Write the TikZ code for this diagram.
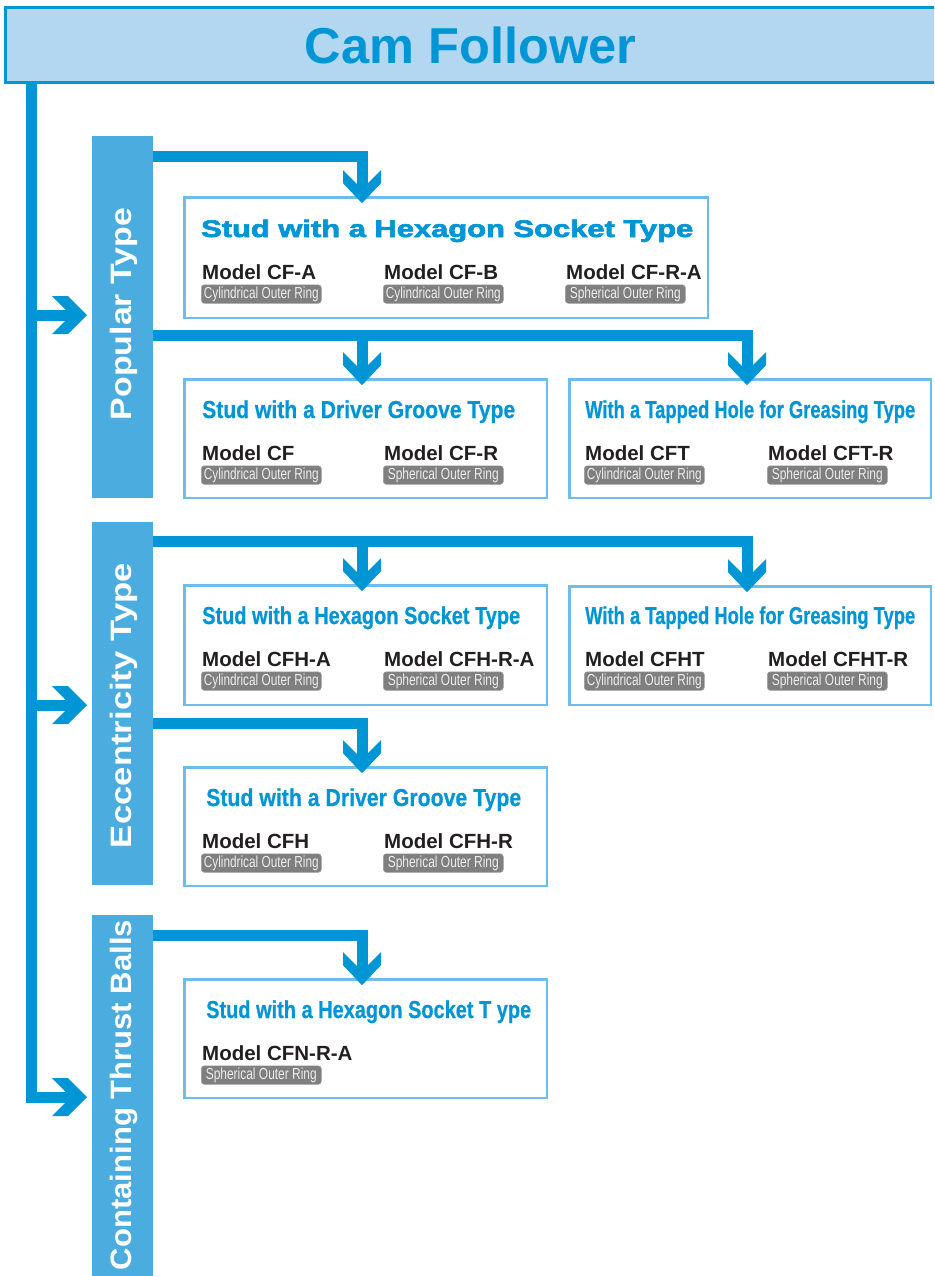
\documentclass[tikz,border=0pt]{standalone}
\usepackage{fontspec}
\setmainfont{Liberation Sans}
\newfontfamily\heavyfont{Liberation Sans Bold}[FakeBold=2.6]
\newfontfamily\condfont{Liberation Sans Bold}[FakeBold=0.6]
\usetikzlibrary{calc}
\definecolor{connblue}{HTML}{0096D6}
\definecolor{titlefill}{HTML}{B3D7F0}
\definecolor{barblue}{HTML}{4BADDF}
\definecolor{boxline}{HTML}{6DBDEA}
\definecolor{tagfill}{HTML}{7F7F7F}
\definecolor{tagline}{HTML}{A0A0A0}
\definecolor{modeltext}{HTML}{231F20}
\newcommand\fitw[2]{\resizebox{#1pt}{\height}{#2}}
\newcommand\cyl{\fitw{115}{Cylindrical Outer Ring}}
\newcommand\sph{\fitw{111}{Spherical Outer Ring}}
\newcommand\chevdown[1]{\fill[chev] ($(#1)+(-19,-33)$) -- ($(#1)+(0,-14)$) -- ($(#1)+(19,-33)$) -- ($(#1)+(19,-20)$) -- (#1) -- ($(#1)+(-19,-20)$) -- cycle;}
\newcommand\chevright[1]{\fill[chev] ($(#1)+(-35,-19)$) -- ($(#1)+(-19,-19)$) -- (#1) -- ($(#1)+(-19,19)$) -- ($(#1)+(-35,19)$) -- ($(#1)+(-16,0)$) -- cycle;}
\newcommand\entry[5]{%
  \node[model] (#1m) at (#2,#3) {#4};
  \node[tag] (#1t) at ($(#2,#3)+(-1,5.5)$) {#5};}
\tikzset{
  conn/.style={line width=11pt, draw=connblue, line join=miter},
  chev/.style={fill=connblue},
  boxsty/.style={draw=boxline, line width=2.5pt, fill=white, inner sep=0pt, anchor=north west},
  bar/.style={fill=barblue, inner sep=0pt, minimum width=61pt, anchor=north west},
  bartext/.style={rotate=90, anchor=base, text=white, font=\bfseries\fontsize{29.5}{30}\selectfont, inner sep=0pt},
  boxtitle/.style={anchor=base west, text=connblue, font=\condfont\fontsize{24.5}{25}\selectfont, inner sep=0pt},
  model/.style={anchor=base west, text=modeltext, font=\bfseries\fontsize{20.5}{21}\selectfont, inner sep=0pt},
  tag/.style={anchor=north west, fill=tagfill, draw=tagline, line width=0.6pt, rounded corners=3pt, minimum width=120pt, minimum height=18.5pt, inner sep=0pt, text=white!93!black, font=\fontsize{16}{16}\selectfont},
}
\begin{document}
\begin{tikzpicture}[x=1pt,y=-1pt]
\clip (0,0) rectangle (934,1276);
% title
\node[draw=connblue, line width=3pt, fill=titlefill, minimum width=945pt, minimum height=75pt, anchor=north west, inner sep=0pt] (title) at (4,6.5) {};
\node[anchor=base, text=connblue, font=\bfseries\fontsize{50.5}{51}\selectfont, inner sep=0pt] (tt) at (470.5,64) {Cam Follower};
% category bars
\node[bar, minimum height=362pt] (pop) at (92,136) {};
\node[bar, minimum height=363pt] (ecc) at (92,522) {};
\node[bar, minimum height=365pt] (cont) at (92,915) {};
\node[bartext] (popt) at (131.5,314) {\fitw{212}{Popular Type}};
\node[bartext] (ecct) at (131.5,705.5) {\fitw{285}{Eccentricity Type}};
\node[bartext] (contt) at (131.5,1095) {\fitw{350}{Containing Thrust Balls}};
% trunk
\coordinate (trunk) at (31.5,81);
\coordinate (h1) at (87,315);
\coordinate (h2) at (87,705);
\coordinate (h3) at (87,1097);
\draw[conn] (trunk) |- ($(h3)+(-12,0)$);
\draw[conn] (h1 -| trunk) -- ($(h1)+(-12,0)$);
\draw[conn] (h2 -| trunk) -- ($(h2)+(-12,0)$);
\chevright{h1}\chevright{h2}\chevright{h3}
% boxes
\node[boxsty, minimum width=523.5pt, minimum height=120.5pt] (b1) at (183.2,196.2) {};
\node[boxsty, minimum width=362.5pt, minimum height=118.5pt] (b2) at (183.2,378.2) {};
\node[boxsty, minimum width=361.5pt, minimum height=118.5pt] (b3) at (568.2,378.2) {};
\node[boxsty, minimum width=362.5pt, minimum height=119.5pt] (b4) at (183.2,584.2) {};
\node[boxsty, minimum width=361.5pt, minimum height=118.5pt] (b5) at (568.2,585.2) {};
\node[boxsty, minimum width=362.5pt, minimum height=118.5pt] (b6) at (183.2,766.2) {};
\node[boxsty, minimum width=362.5pt, minimum height=118.5pt] (b7) at (183.2,978.2) {};
% tips
\path (b1.north west) ++(178.8,7) coordinate (a1);
\path (b2.north west) ++(178.8,7) coordinate (a2);
\path (b3.north west) ++(178.8,7) coordinate (a3);
\path (b4.north west) ++(178.8,7) coordinate (a4);
\path (b5.north west) ++(178.8,7) coordinate (a5);
\path (b6.north west) ++(178.8,7) coordinate (a6);
\path (b7.north west) ++(178.8,7) coordinate (a7);
% connectors
\coordinate (c1) at ([yshift=-20.5pt]pop.north east);
\coordinate (c2) at ([yshift=-199pt]pop.north east);
\coordinate (c3) at ([yshift=-19.5pt]ecc.north east);
\coordinate (c4) at ([yshift=-201pt]ecc.north east);
\coordinate (c5) at ([yshift=-20pt]cont.north east);
\draw[conn] (c1) -| ($(a1)+(0,-12)$);
\draw[conn] (c2) -| ($(a3)+(0,-12)$);
\draw[conn] (c2 -| a2) -- ($(a2)+(0,-12)$);
\draw[conn] (c3) -| ($(a5)+(0,-12)$);
\draw[conn] (c3 -| a4) -- ($(a4)+(0,-12)$);
\draw[conn] (c4) -| ($(a6)+(0,-12)$);
\draw[conn] (c5) -| ($(a7)+(0,-12)$);
\chevdown{a1}\chevdown{a2}\chevdown{a3}\chevdown{a4}\chevdown{a5}\chevdown{a6}\chevdown{a7}
% box titles
\node[boxtitle, font=\heavyfont\fontsize{24}{25}\selectfont] (t1) at (201,237) {\fitw{492}{Stud with a Hexagon Socket Type}};
\node[boxtitle] (t2) at (202,418) {\fitw{313}{Stud with a Driver Groove Type}};
\node[boxtitle] (t3) at (585,418) {\fitw{330}{With a Tapped Hole for Greasing Type}};
\node[boxtitle] (t4) at (202,624) {\fitw{318}{Stud with a Hexagon Socket Type}};
\node[boxtitle] (t5) at (585,624) {\fitw{330}{With a Tapped Hole for Greasing Type}};
\node[boxtitle] (t6) at (206,806) {\fitw{315}{Stud with a Driver Groove Type}};
\node[boxtitle] (t7) at (206,1018) {\fitw{325}{Stud with a Hexagon Socket T ype}};
% models
\entry{e11}{202}{279}{Model CF-A}{\cyl}
\entry{e12}{384}{279}{Model CF-B}{\cyl}
\entry{e13}{566}{279}{Model CF-R-A}{\sph}
\entry{e21}{202}{460}{Model CF}{\cyl}
\entry{e22}{384}{460}{Model CF-R}{\sph}
\entry{e31}{585}{460}{Model CFT}{\cyl}
\entry{e32}{768}{460}{Model CFT-R}{\sph}
\entry{e41}{202}{666}{Model CFH-A}{\cyl}
\entry{e42}{384}{666}{Model CFH-R-A}{\sph}
\entry{e51}{585}{666}{Model CFHT}{\cyl}
\entry{e52}{768}{666}{Model CFHT-R}{\sph}
\entry{e61}{202}{848}{Model CFH}{\cyl}
\entry{e62}{384}{848}{Model CFH-R}{\sph}
\entry{e71}{202}{1060}{Model CFN-R-A}{\sph}
\end{tikzpicture}
\end{document}
